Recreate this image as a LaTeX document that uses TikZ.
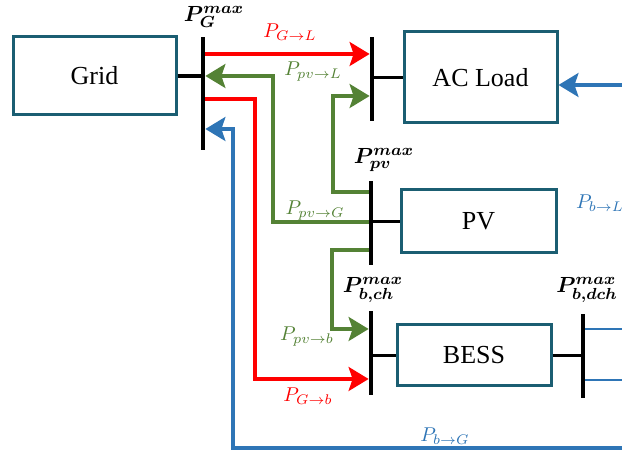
\documentclass[tikz,border=0pt]{standalone}
\usepackage{amsmath, amssymb}
\usepackage{bm}
\usepackage{fontspec}
\setmainfont{Liberation Serif}
\usepackage{xcolor}
\usepackage{tikz}
\usetikzlibrary{arrows.meta, positioning, calc}

\definecolor{boxteal}{HTML}{1B5E72}
\definecolor{flowred}{HTML}{FF0000}
\definecolor{flowgreen}{HTML}{548235}
\definecolor{flowblue}{HTML}{2E75B6}

\begin{document}
\begin{tikzpicture}[
    x=0.5pt, y=-0.5pt,
    block/.style={draw=boxteal, line width=1.5pt, fill=white, inner sep=0pt, font=\fontsize{13}{15}\selectfont},
    bus/.style={fill=black, inner sep=0pt, minimum width=2pt},
    link/.style={line width=1.6pt},
    flow/.style={line width=1.6pt, -{Stealth[length=10pt, width=12pt, inset=2pt]}},
    line/.style={line width=1.4pt},
    lbl/.style={font=\normalsize, inner sep=0pt},
    maxlbl/.style={font=\fontsize{11}{13}\selectfont, inner sep=0pt},
  ]
  \useasboundingbox (0,0) rectangle (622,454);

  \node[block, minimum width=81.5pt, minimum height=39pt] (grid) at (94.5,76) {Grid};
  \node[block, minimum width=76.5pt, minimum height=45.5pt] (load) at (480.5,77.5) {AC Load};
  \node[block, minimum width=77.5pt, minimum height=31.5pt] (pv) at (478.5,221.5) {PV};
  \node[block, minimum width=77pt, minimum height=30.5pt] (bess) at (474,355.5) {BESS};

  \node[bus, minimum height=56.5pt] (gbus) at (203,93.5) {};
  \node[bus, minimum height=42pt] (lbus) at (372,79) {};
  \node[bus, minimum height=42pt] (pvbus) at (371,223) {};
  \node[bus, minimum height=42pt] (chbus) at (371,353) {};
  \node[bus, minimum height=42pt] (dchbus) at (583,356) {};

  \draw[link] (grid.east) -- (grid.east -| gbus.center);
  \draw[link] (load.west -| lbus.center) -- (load.west);
  \draw[link] (pv.west -| pvbus.center) -- (pv.west);
  \draw[link] (bess.west -| chbus.center) -- (bess.west);
  \draw[link] (bess.east) -- (bess.east -| dchbus.center);

  \draw[flow, flowred] (gbus.east |- 0,54) -- (lbus.west |- 0,54);
  \draw[flow, flowred] (gbus.east |- 0,99) -| (255,379) -- (chbus.west |- 0,379);
  \draw[flow, flowgreen] (pvbus.west |- 0,192) -| (333,96) -- (lbus.west |- 0,96);
  \draw[flow, flowgreen] (pvbus.west |- 0,222) -| (273,76) -- (gbus.east |- 0,76);
  \draw[flow, flowgreen] (pvbus.west |- 0,250) -| (332,329) -- (chbus.west |- 0,329);
  \draw[flow, flowblue] (622,448) -| (233,129) -- (gbus.east |- 0,129);
  \draw[flow, flowblue] (622,85) -- (load.east |- 0,85);
  \draw[line, flowblue] (dchbus.east |- 0,329) -- (622,329);
  \draw[line, flowblue] (dchbus.east |- 0,380) -- (622,380);

  \node[maxlbl] (gmax) at (214,17) {$\bm{P_G^{max}}$};
  \node[maxlbl] (pvmax) at (384,160) {$\bm{P_{pv}^{max}}$};
  \node[maxlbl] (chmax) at (373,290) {$\bm{P_{b,ch}^{max}}$};
  \node[maxlbl] (dchmax) at (587,290) {$\bm{P_{b,dch}^{max}}$};

  \node[lbl, text=flowred] (lgl) at (290,32) {$P_{G\rightarrow L}$};
  \node[lbl, text=flowred] (lgb) at (308,396) {$P_{G\rightarrow b}$};
  \node[lbl, text=flowgreen] (lpvl) at (313,72) {$P_{pv\rightarrow L}$};
  \node[lbl, text=flowgreen] (lpvg) at (315,211) {$P_{pv\rightarrow G}$};
  \node[lbl, text=flowgreen] (lpvb) at (307,337) {$P_{pv\rightarrow b}$};
  \node[lbl, text=flowblue] (lbl) at (600,203) {$P_{b\rightarrow L}$};
  \node[lbl, text=flowblue] (lbg) at (445,436) {$P_{b\rightarrow G}$};
\end{tikzpicture}
\end{document}
